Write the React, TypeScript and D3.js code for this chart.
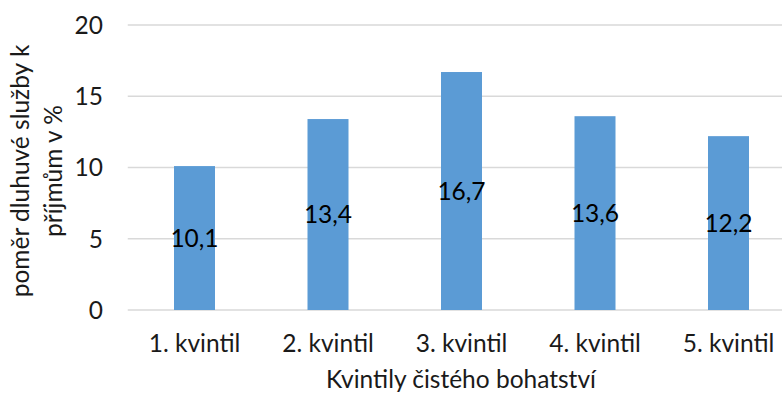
import React from "react";
import * as d3 from "d3";

const categories = ["1. kvintil", "2. kvintil", "3. kvintil", "4. kvintil", "5. kvintil"];
const values = [10.1, 13.4, 16.7, 13.6, 12.2];
const valueLabels = ["10,1", "13,4", "16,7", "13,6", "12,2"];
const yTicks = [0, 5, 10, 15, 20];
const yTitleLines = ["poměr dluhuvé služby k", "příjmům v %"];
const xTitle = "Kvintily čistého bohatství";

const W = 782;
const H = 394;
const FONT = "Lato, 'Open Sans', sans-serif";
const FS = 24.5;

export default function App() {
  const left = 127.75;
  const right = 795.25;
  const top = 25;
  const bottom = 310;
  const x = d3.scaleBand<string>().domain(categories).range([left, right]).paddingInner(0.69).paddingOuter(0.345);
  const y = d3.scaleLinear().domain([0, 20]).range([bottom, top]);
  const bw = 41;

  return (
    <svg width={W} height={H} style={{ position: "absolute", left: 0, top: 0 }} fontFamily={FONT}>
      <rect width={W} height={H} fill="#fff" />
      {yTicks.map((t) => (
        <g key={t}>
          <line x1={left} x2={W} y1={y(t)} y2={y(t)} stroke="#d9d9d9" strokeWidth={1.3} />
          <text x={103} y={y(t)} dy="0.36em" textAnchor="end" fontSize={FS} fill="#1a1a1a">
            {t}
          </text>
        </g>
      ))}
      {categories.map((c, i) => {
        const cx = (x(c) as number) + x.bandwidth() / 2;
        const yTop = y(values[i]);
        return (
          <g key={c}>
            <rect x={cx - bw / 2} y={yTop} width={bw} height={bottom - yTop} fill="#5B9BD5" />
            <text x={cx} y={(yTop + bottom) / 2} dy="0.36em" textAnchor="middle" fontSize={FS} fill="#000">
              {valueLabels[i]}
            </text>
            <text x={cx} y={352} textAnchor="middle" fontSize={FS} fill="#1a1a1a">
              {c}
            </text>
          </g>
        );
      })}
      <text x={461} y={388} textAnchor="middle" fontSize={FS} fill="#1a1a1a">
        {xTitle}
      </text>
      <g transform={`translate(0, 171) rotate(-90)`}>
        {yTitleLines.map((l, i) => (
          <text key={i} x={0} y={29 + i * 33} textAnchor="middle" fontSize={FS} fill="#1a1a1a">
            {l}
          </text>
        ))}
      </g>
    </svg>
  );
}
